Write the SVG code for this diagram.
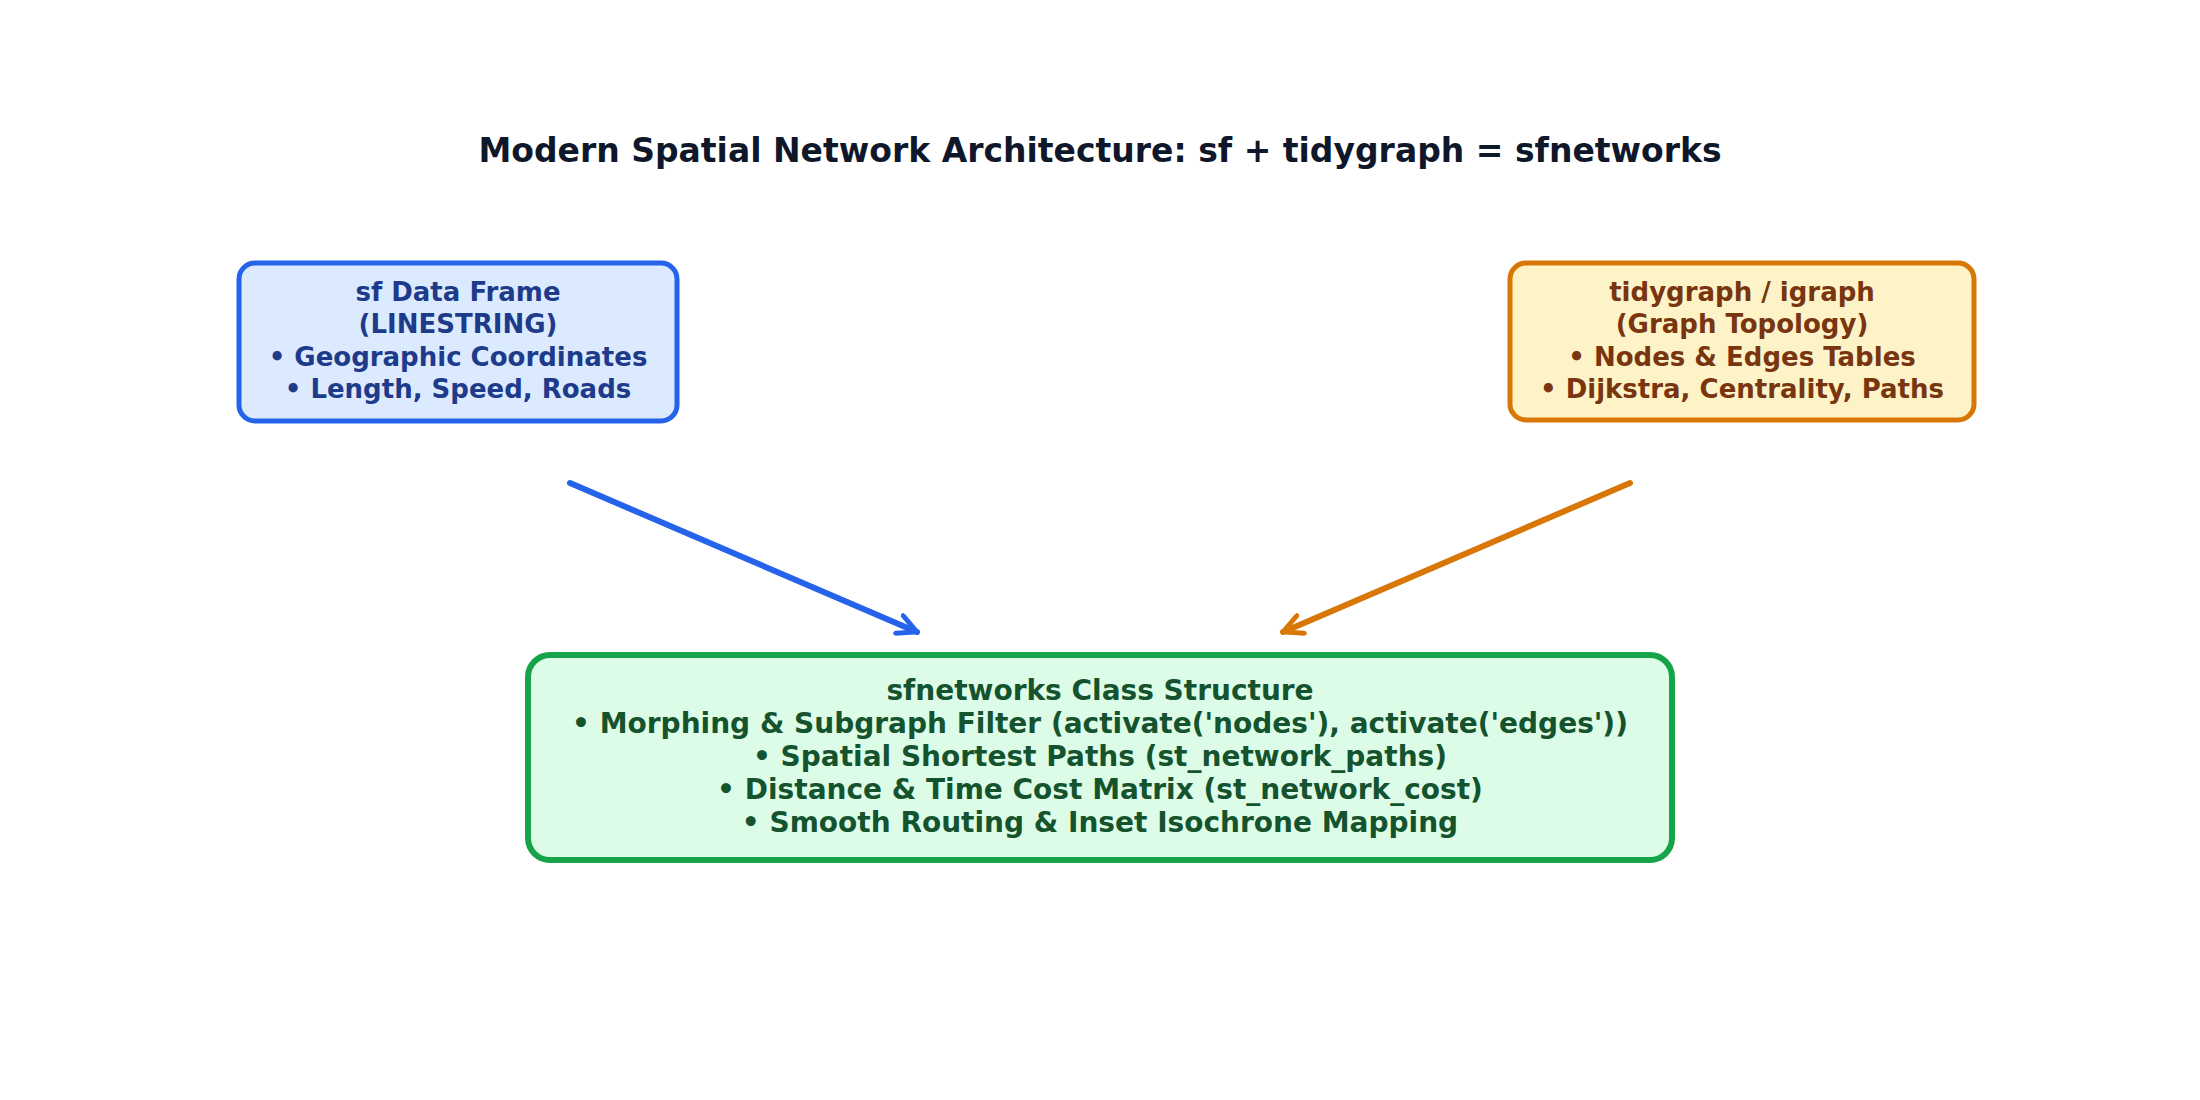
<svg xmlns="http://www.w3.org/2000/svg" width="2200" height="1100" viewBox="0 0 2200 1100">
<style>
text{font-family:"DejaVu Sans","Liberation Sans",sans-serif;font-weight:bold;text-anchor:middle;dominant-baseline:central}
.t{font-size:26px}
</style>
<defs>
<marker id="ab" viewBox="0 0 10 10" refX="9" refY="5" markerWidth="4" markerHeight="4" orient="auto"><path d="M1,1 L9,5 L1,9" fill="none" stroke="#2563eb" stroke-width="2" stroke-linecap="round"/></marker>
<marker id="ao" viewBox="0 0 10 10" refX="9" refY="5" markerWidth="4" markerHeight="4" orient="auto"><path d="M1,1 L9,5 L1,9" fill="none" stroke="#d97706" stroke-width="2" stroke-linecap="round"/></marker>
</defs>
<rect width="2200" height="1100" fill="#fff"/>
<text x="1100" y="150" font-size="33" fill="#0f172a">Modern Spatial Network Architecture: sf + tidygraph = sfnetworks</text>
<g id="connectors" stroke-width="6" stroke-linecap="round" fill="none">
<line x1="570" y1="483" x2="917" y2="632" stroke="#2563eb" marker-end="url(#ab)"/>
<line x1="1630" y1="483" x2="1283" y2="632" stroke="#d97706" marker-end="url(#ao)"/>
</g>
<g id="sf">
<rect x="239" y="263" width="438" height="158" rx="16" fill="#dbeafe" stroke="#2563eb" stroke-width="5"/>
<g class="t" fill="#1e3a8a"><text x="458" y="292">sf Data Frame</text><text x="458" y="324">(LINESTRING)</text><text x="458" y="357">• Geographic Coordinates</text><text x="458" y="389">• Length, Speed, Roads</text></g>
</g>
<g id="tidygraph">
<rect x="1510" y="263" width="464" height="157" rx="16" fill="#fef3c7" stroke="#d97706" stroke-width="5"/>
<g class="t" fill="#78350f"><text x="1742" y="292">tidygraph / igraph</text><text x="1742" y="324">(Graph Topology)</text><text x="1742" y="357">• Nodes &amp; Edges Tables</text><text x="1742" y="389">• Dijkstra, Centrality, Paths</text></g>
</g>
<g id="sfnetworks">
<rect x="528" y="655" width="1144" height="205" rx="22" fill="#dcfce7" stroke="#16a34a" stroke-width="6"/>
<g class="t" fill="#14532d" font-size="28" style="font-size:28px"><text x="1100" y="690">sfnetworks Class Structure</text><text x="1100" y="723">• Morphing &amp; Subgraph Filter (activate('nodes'), activate('edges'))</text><text x="1100" y="756">• Spatial Shortest Paths (st_network_paths)</text><text x="1100" y="789">• Distance &amp; Time Cost Matrix (st_network_cost)</text><text x="1100" y="822">• Smooth Routing &amp; Inset Isochrone Mapping</text></g>
</g>
</svg>
